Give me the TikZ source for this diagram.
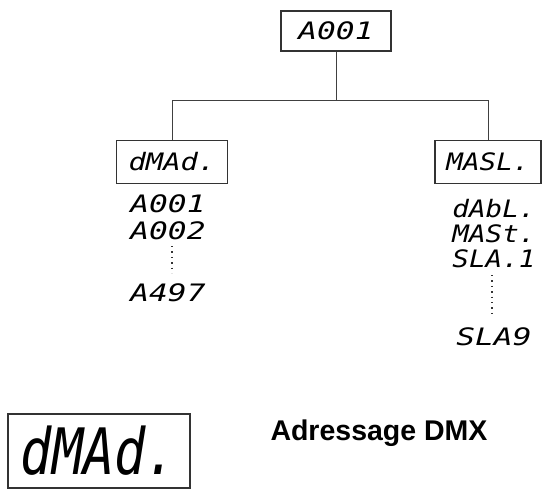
\documentclass[tikz,border=0pt]{standalone}
\usepackage{fontspec}
\setmainfont{Liberation Sans}
\newfontfamily\segfont{DejaVu Sans Mono}
\newcommand{\sg}[4]{{\segfont\itshape\fontsize{#1}{#1}\selectfont\scalebox{#2}[#3]{#4}}}
\begin{document}
\begin{tikzpicture}[x=1pt,y=1pt,
  dispbox/.style={draw=black!80,line width=1.2pt,inner sep=0pt,anchor=center},
  segtxt/.style={inner sep=0pt,anchor=center},
  conn/.style={draw=black!75,line width=1pt},
  dotline/.style={draw=black!80,line width=1.4pt,dash pattern=on 1.4pt off 4pt}]
\useasboundingbox (0,0) rectangle (547,-491);
\fill[white] (0,0) rectangle (547,-491);
% top
\node[dispbox,minimum width=110,minimum height=40] (top) at (336,-31) {\sg{24}{1.3}{1}{A001}};
% branches
\node[dispbox,minimum width=111,minimum height=43] (left) at (172,-162) {\sg{24}{1.2}{1}{dMAd.}};
\node[dispbox,minimum width=106,minimum height=43] (right) at (488,-162) {\sg{24}{1.15}{1}{MASL.}};
\coordinate (j) at (336,-100);
\draw[conn] (top.south) -- (j);
\draw[conn] (j) -| (left.north);
\draw[conn] (j) -| (right.north);
% left list
\node[segtxt] (l1) at (168,-204) {\sg{24}{1.3}{1}{A001}};
\node[segtxt] (l2) at (168,-231) {\sg{24}{1.3}{1}{A002}};
\node[segtxt] (l3) at (168,-293) {\sg{24}{1.3}{1}{A497}};
\coordinate (ld1) at (172,-246);
\coordinate (ld2) at (172,-273);
\draw[dotline] (ld1) -- (ld2);
% right list
\node[segtxt] (r1) at (494,-209) {\sg{24}{1.15}{1}{dAbL.}};
\node[segtxt] (r2) at (494,-234) {\sg{24}{1.15}{1}{MASt.}};
\node[segtxt] (r3) at (494,-259) {\sg{24}{1.15}{1}{SLA.1}};
\node[segtxt] (r4) at (494,-337) {\sg{24}{1.3}{1}{SLA9}};
\coordinate (rd1) at (492,-275);
\coordinate (rd2) at (492,-318);
\draw[dotline] (rd1) -- (rd2);
% bottom
\node[dispbox,line width=1.6pt,minimum width=182,minimum height=74] (big) at (99,-451) {\sg{40}{1.3}{1.6}{dMAd.}};
\node[inner sep=0pt] (title) at (379,-433) {\fontsize{28.5}{28.5}\selectfont\bfseries Adressage DMX};
\end{tikzpicture}
\end{document}
